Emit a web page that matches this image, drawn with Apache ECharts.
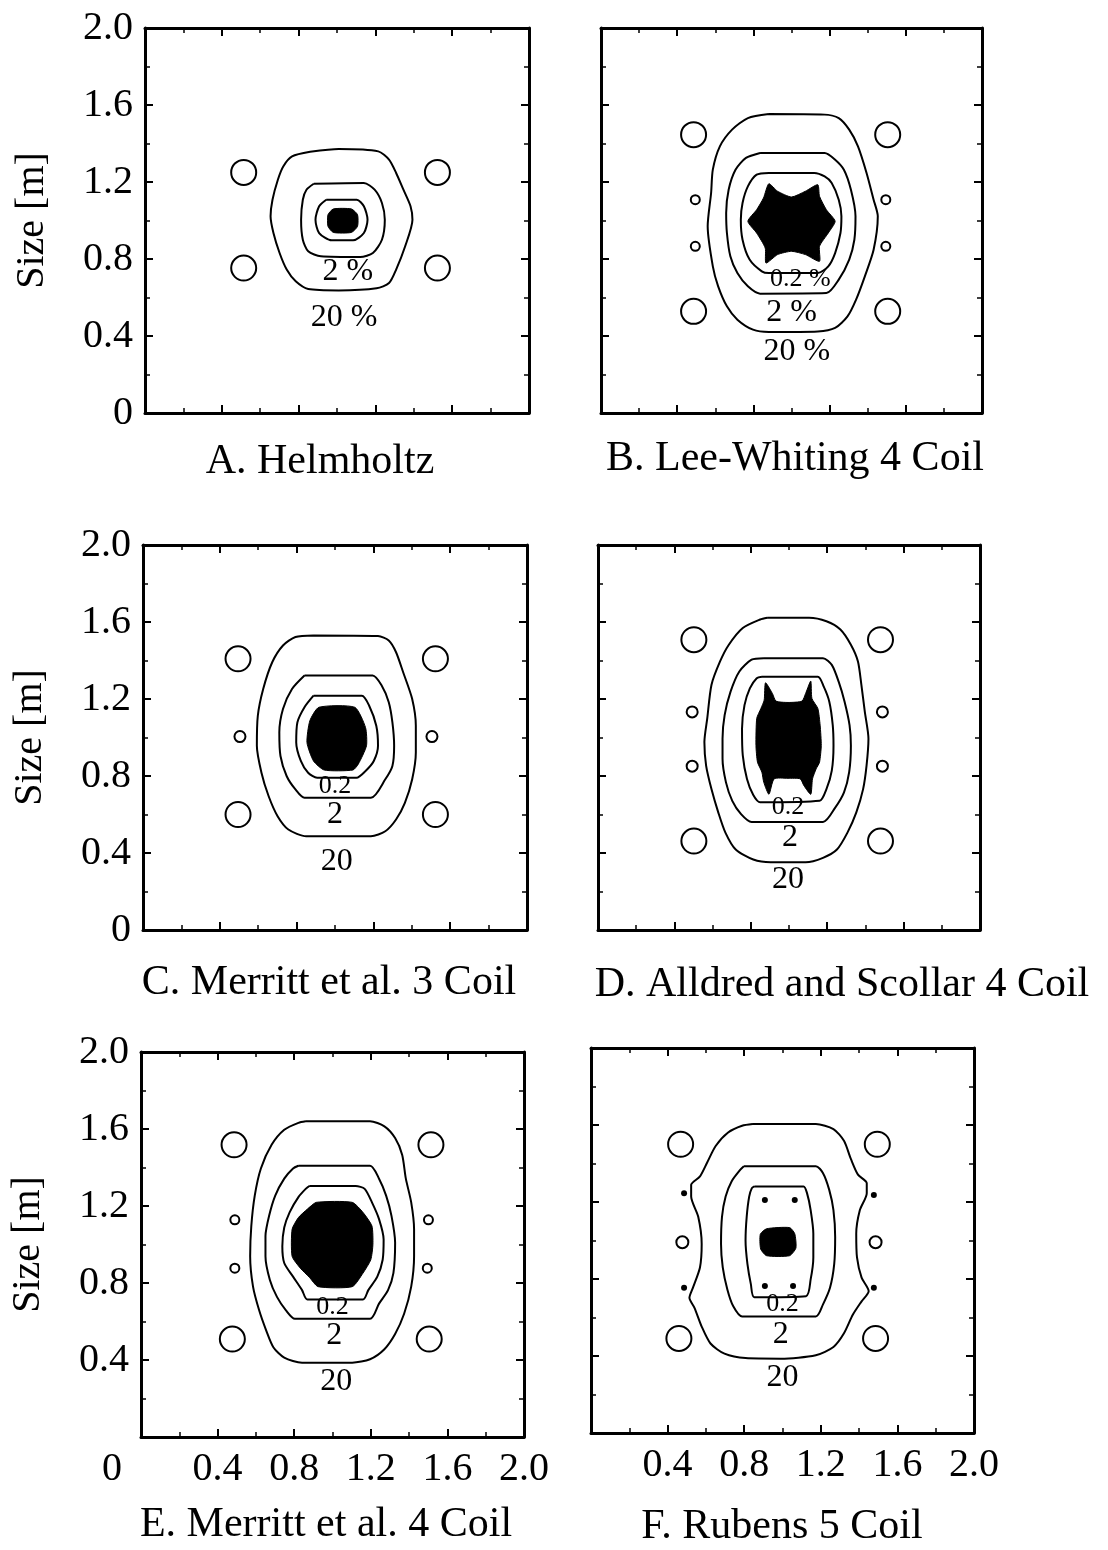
<!DOCTYPE html>
<html lang="en">
<head>
<meta charset="UTF-8">
<title>Coil systems - field uniformity</title>
<style>
    html, body { margin: 0; padding: 0; background: #fff; }
    #main { width: 1108px; height: 1550px; }
</style>
</head>
<body>
<div id="main"></div>
<script src="https://cdn.jsdelivr.net/npm/echarts@6/dist/echarts.min.js"></script>
<script>
// captions under each panel
var panelTitles = ['A. Helmholtz', 'B. Lee-Whiting 4 Coil', 'C. Merritt et al. 3 Coil',
    'D. Alldred and Scollar 4 Coil', 'E. Merritt et al. 4 Coil', 'F. Rubens 5 Coil'];
var tickLabels = ['0', '0.4', '0.8', '1.2', '1.6', '2.0'];
var yName = 'Size [m]';

// A. Helmholtz
var coilsA = [[0.514, 1.25], [1.523, 1.25], [0.514, 0.753], [1.523, 0.753]];
var a20 = [[0.860, 1.357], [1.009, 1.371], [1.215, 1.359], [1.271, 1.316], [1.308, 1.247], [1.346, 1.160], [1.383, 1.074], [1.393, 1.004], [1.355, 0.866], [1.308, 0.745], [1.271, 0.675], [1.206, 0.648], [1.009, 0.637], [0.850, 0.644], [0.785, 0.684], [0.738, 0.745], [0.701, 0.831], [0.669, 0.935], [0.654, 1.022], [0.664, 1.108], [0.692, 1.212], [0.720, 1.281], [0.766, 1.333]];
var a2 = [[0.879, 1.191], [1.140, 1.195], [1.196, 1.160], [1.234, 1.091], [1.249, 1.004], [1.234, 0.900], [1.187, 0.831], [1.121, 0.810], [0.916, 0.814], [0.850, 0.840], [0.822, 0.900], [0.813, 1.004], [0.822, 1.108], [0.841, 1.160]];
var a02 = [[0.944, 1.108], [1.103, 1.108], [1.140, 1.074], [1.159, 1.004], [1.140, 0.935], [1.084, 0.897], [0.972, 0.897], [0.907, 0.935], [0.888, 1.004], [0.907, 1.074]];
var aCore = [[0.981, 1.060], [1.075, 1.060], [1.107, 1.030], [1.107, 0.970], [1.075, 0.938], [0.981, 0.938], [0.953, 0.970], [0.953, 1.030]];
var labelsA = [['2 %', 1.056, 0.736], ['20 %', 1.037, 0.494]];

// B. Lee-Whiting
var coilsB = [[0.486, 1.446], [1.505, 1.446], [0.486, 0.528], [1.505, 0.528]];
var smallB = [[0.495, 1.108], [1.495, 1.108], [0.495, 0.866], [1.495, 0.866]];
var b20 = [[0.881, 1.553], [1.174, 1.550], [1.248, 1.532], [1.303, 1.472], [1.349, 1.385], [1.394, 1.247], [1.431, 1.108], [1.453, 1.022], [1.431, 0.848], [1.385, 0.710], [1.339, 0.589], [1.294, 0.502], [1.229, 0.442], [1.138, 0.424], [0.881, 0.421], [0.798, 0.433], [0.716, 0.485], [0.661, 0.554], [0.615, 0.658], [0.587, 0.762], [0.560, 0.970], [0.578, 1.143], [0.587, 1.264], [0.624, 1.385], [0.688, 1.472], [0.771, 1.532]];
var b2 = [[0.835, 1.351], [1.174, 1.351], [1.229, 1.316], [1.275, 1.264], [1.312, 1.160], [1.336, 1.022], [1.330, 0.900], [1.303, 0.797], [1.248, 0.693], [1.183, 0.623], [0.835, 0.620], [0.771, 0.658], [0.716, 0.727], [0.679, 0.814], [0.661, 0.935], [0.657, 1.039], [0.670, 1.160], [0.706, 1.264], [0.761, 1.325]];
var b02 = [[0.881, 1.247], [1.119, 1.247], [1.174, 1.229], [1.211, 1.195], [1.248, 1.108], [1.262, 1.022], [1.257, 0.935], [1.229, 0.831], [1.193, 0.762], [1.138, 0.727], [0.881, 0.727], [0.844, 0.736], [0.780, 0.797], [0.743, 0.900], [0.734, 1.004], [0.743, 1.091], [0.771, 1.177], [0.817, 1.238]];
var bCore = [[0.881, 1.191], [0.927, 1.152], [1.000, 1.122], [1.073, 1.152], [1.138, 1.186], [1.147, 1.126], [1.183, 1.056], [1.229, 0.996], [1.193, 0.935], [1.147, 0.866], [1.147, 0.788], [1.073, 0.823], [1.000, 0.840], [0.927, 0.823], [0.866, 0.779], [0.862, 0.857], [0.817, 0.935], [0.771, 0.996], [0.817, 1.056], [0.853, 1.117]];
var labelsB = [['0.2 %', 1.046, 0.693], ['2 %', 1.0, 0.52], ['20 %', 1.028, 0.320]];

// C. Merritt 3 coil
var coilsC = [[0.495, 1.409], [1.523, 1.409], [0.495, 0.600], [1.523, 0.600]];
var smallC = [[0.505, 1.005], [1.505, 1.005]];
var c20 = [[0.888, 1.530], [1.224, 1.527], [1.280, 1.504], [1.318, 1.443], [1.355, 1.339], [1.402, 1.200], [1.421, 1.061], [1.421, 0.922], [1.402, 0.783], [1.364, 0.661], [1.318, 0.574], [1.262, 0.513], [1.187, 0.487], [0.850, 0.487], [0.757, 0.522], [0.701, 0.591], [0.654, 0.696], [0.617, 0.817], [0.593, 0.957], [0.598, 1.113], [0.626, 1.252], [0.673, 1.391], [0.729, 1.478], [0.794, 1.522]];
var c2 = [[0.841, 1.322], [1.196, 1.322], [1.243, 1.270], [1.280, 1.183], [1.299, 1.078], [1.308, 0.957], [1.299, 0.852], [1.262, 0.783], [1.187, 0.687], [0.841, 0.687], [0.794, 0.730], [0.748, 0.800], [0.716, 0.904], [0.710, 1.026], [0.729, 1.148], [0.776, 1.252]];
var c02 = [[0.888, 1.217], [1.140, 1.217], [1.178, 1.165], [1.215, 1.061], [1.224, 0.957], [1.202, 0.878], [1.159, 0.826], [1.112, 0.791], [0.907, 0.791], [0.860, 0.817], [0.822, 0.878], [0.798, 0.974], [0.804, 1.078], [0.841, 1.157]];
var cCore = [[0.916, 1.157], [1.103, 1.157], [1.159, 1.052], [1.164, 0.957], [1.121, 0.861], [1.093, 0.831], [0.944, 0.831], [0.888, 0.878], [0.854, 0.974], [0.869, 1.087]];
var labelsC = [['0.2', 1.0, 0.748], ['2', 1.0, 0.6], ['20', 1.009, 0.357]];

// D. Alldred and Scollar
var coilsD = [[0.502, 1.508], [1.479, 1.508], [0.502, 0.462], [1.479, 0.462]];
var smallD = [[0.493, 1.133], [1.489, 1.133], [0.493, 0.851], [1.489, 0.851]];
var d20 = [[0.886, 1.622], [1.105, 1.622], [1.196, 1.604], [1.269, 1.561], [1.324, 1.482], [1.361, 1.395], [1.379, 1.273], [1.397, 1.133], [1.416, 0.994], [1.406, 0.854], [1.388, 0.732], [1.352, 0.610], [1.306, 0.506], [1.251, 0.418], [1.178, 0.375], [1.087, 0.352], [0.904, 0.352], [0.813, 0.366], [0.721, 0.418], [0.667, 0.506], [0.630, 0.610], [0.594, 0.732], [0.566, 0.854], [0.557, 0.976], [0.572, 1.099], [0.594, 1.273], [0.639, 1.395], [0.685, 1.482], [0.758, 1.569], [0.849, 1.613]];
var d2 = [[0.868, 1.412], [1.178, 1.412], [1.224, 1.377], [1.260, 1.290], [1.291, 1.186], [1.317, 1.064], [1.324, 0.959], [1.315, 0.820], [1.288, 0.715], [1.242, 0.636], [1.178, 0.561], [0.804, 0.561], [0.749, 0.602], [0.703, 0.671], [0.670, 0.767], [0.652, 0.889], [0.652, 0.994], [0.663, 1.116], [0.694, 1.238], [0.740, 1.343], [0.804, 1.404]];
var d02 = [[0.858, 1.316], [1.151, 1.316], [1.182, 1.264], [1.211, 1.186], [1.229, 1.064], [1.233, 0.959], [1.224, 0.828], [1.196, 0.732], [1.160, 0.671], [0.849, 0.663], [0.813, 0.701], [0.780, 0.785], [0.758, 0.907], [0.754, 1.046], [0.767, 1.168], [0.795, 1.255], [0.831, 1.308]];
var dCore = [[0.877, 1.284], [0.913, 1.229], [0.932, 1.189], [0.995, 1.182], [1.068, 1.189], [1.087, 1.229], [1.114, 1.293], [1.120, 1.203], [1.151, 1.151], [1.163, 1.064], [1.169, 0.959], [1.160, 0.872], [1.142, 0.837], [1.123, 0.785], [1.114, 0.705], [1.078, 0.750], [1.059, 0.785], [0.995, 0.788], [0.922, 0.785], [0.895, 0.705], [0.868, 0.767], [0.858, 0.820], [0.835, 0.872], [0.827, 0.959], [0.831, 1.099], [0.853, 1.151], [0.870, 1.194]];
var labelsD = [['0.2', 0.995, 0.636], ['2', 1.005, 0.480], ['20', 0.995, 0.262]];

// E. Merritt 4 coil
var coilsE = [[0.486, 1.518], [1.514, 1.518], [0.477, 0.509], [1.505, 0.509]];
var smallE = [[0.490, 1.128], [1.501, 1.128], [0.490, 0.877], [1.495, 0.877]];
var e20 = [[0.860, 1.640], [1.196, 1.640], [1.271, 1.614], [1.327, 1.553], [1.364, 1.465], [1.383, 1.342], [1.411, 1.219], [1.426, 1.079], [1.426, 0.939], [1.411, 0.781], [1.374, 0.640], [1.327, 0.535], [1.271, 0.456], [1.196, 0.404], [1.103, 0.386], [0.841, 0.386], [0.748, 0.412], [0.692, 0.465], [0.654, 0.553], [0.617, 0.658], [0.585, 0.781], [0.570, 0.939], [0.576, 1.096], [0.594, 1.254], [0.626, 1.395], [0.682, 1.518], [0.748, 1.596], [0.822, 1.632]];
var e2 = [[0.822, 1.409], [1.196, 1.409], [1.243, 1.342], [1.280, 1.254], [1.308, 1.149], [1.327, 1.009], [1.318, 0.851], [1.290, 0.763], [1.243, 0.693], [1.196, 0.614], [0.804, 0.614], [0.757, 0.658], [0.710, 0.728], [0.673, 0.816], [0.650, 0.939], [0.650, 1.044], [0.669, 1.149], [0.701, 1.254], [0.748, 1.342], [0.794, 1.395]];
var e02 = [[0.879, 1.304], [1.121, 1.304], [1.168, 1.289], [1.206, 1.219], [1.243, 1.132], [1.267, 1.026], [1.262, 0.921], [1.234, 0.833], [1.187, 0.763], [1.159, 0.714], [0.869, 0.714], [0.841, 0.763], [0.794, 0.833], [0.748, 0.904], [0.738, 0.991], [0.748, 1.088], [0.776, 1.167], [0.822, 1.246], [0.860, 1.289]];
var eCore = [[0.916, 1.219], [1.103, 1.219], [1.159, 1.167], [1.206, 1.096], [1.211, 1.000], [1.200, 0.921], [1.159, 0.851], [1.103, 0.781], [0.925, 0.781], [0.879, 0.830], [0.832, 0.877], [0.789, 0.939], [0.789, 1.079], [0.822, 1.140], [0.869, 1.184]];
var labelsE = [['0.2', 1.0, 0.675], ['2', 1.009, 0.526], ['20', 1.019, 0.289]];

// F. Rubens
var coilsF = [[0.468, 1.5], [1.495, 1.5], [0.459, 0.491], [1.486, 0.491]];
var smallF = [[0.477, 0.991], [1.486, 0.991]];
var dotsF = [[0.486, 1.246], [1.477, 1.237], [0.486, 0.754], [1.477, 0.754], [0.908, 1.211], [1.064, 1.211], [0.908, 0.763], [1.055, 0.763]];
var f20 = [[0.844, 1.605], [1.174, 1.605], [1.266, 1.579], [1.321, 1.518], [1.358, 1.421], [1.394, 1.342], [1.440, 1.298], [1.440, 1.246], [1.404, 1.158], [1.385, 1.035], [1.389, 0.912], [1.413, 0.807], [1.450, 0.737], [1.413, 0.684], [1.367, 0.614], [1.321, 0.518], [1.266, 0.447], [1.174, 0.404], [0.991, 0.386], [0.807, 0.389], [0.697, 0.412], [0.624, 0.465], [0.578, 0.553], [0.541, 0.649], [0.514, 0.702], [0.532, 0.754], [0.569, 0.860], [0.578, 0.982], [0.560, 1.123], [0.523, 1.228], [0.523, 1.289], [0.569, 1.333], [0.606, 1.404], [0.651, 1.491], [0.716, 1.561], [0.789, 1.596]];
var f2 = [[0.798, 1.386], [1.174, 1.386], [1.211, 1.351], [1.244, 1.263], [1.266, 1.158], [1.275, 1.018], [1.270, 0.877], [1.248, 0.754], [1.211, 0.667], [1.174, 0.605], [0.789, 0.605], [0.743, 0.658], [0.712, 0.746], [0.688, 0.860], [0.679, 0.982], [0.684, 1.123], [0.703, 1.228], [0.734, 1.307], [0.780, 1.368]];
var f02 = [[0.853, 1.281], [1.110, 1.281], [1.128, 1.246], [1.147, 1.158], [1.161, 1.035], [1.161, 0.912], [1.147, 0.798], [1.123, 0.711], [0.853, 0.705], [0.835, 0.772], [0.817, 0.877], [0.807, 1.000], [0.813, 1.123], [0.826, 1.228], [0.840, 1.272]];
var fCore = [[0.917, 1.061], [1.037, 1.067], [1.064, 1.035], [1.070, 0.961], [1.037, 0.921], [0.917, 0.921], [0.886, 0.956], [0.884, 1.032]];
var labelsF = [['0.2', 1.0, 0.667], ['2', 0.991, 0.509], ['20', 1.0, 0.289]];

var panels = [
    { coils: coilsA, small: [], dots: [], contours: [a20, a2, a02], core: aCore, labels: labelsA },
    { coils: coilsB, small: smallB, dots: [], contours: [b20, b2, b02], core: bCore, labels: labelsB },
    { coils: coilsC, small: smallC, dots: [], contours: [c20, c2, c02], core: cCore, labels: labelsC },
    { coils: coilsD, small: smallD, dots: [], contours: [d20, d2, d02], core: dCore, labels: labelsD },
    { coils: coilsE, small: smallE, dots: [], contours: [e20, e2, e02], core: eCore, labels: labelsE },
    { coils: coilsF, small: smallF, dots: dotsF, contours: [f20, f2, f02], core: fCore, labels: labelsF }
];

// ---- layout ----
var serif = 'Liberation Serif';
var grids = [
    { left: 145, top: 28, width: 384, height: 385 },
    { left: 601, top: 28, width: 381, height: 385 },
    { left: 143, top: 545, width: 384, height: 385 },
    { left: 598, top: 545, width: 382, height: 385 },
    { left: 141, top: 1052, width: 383, height: 385 },
    { left: 591, top: 1048, width: 383, height: 385 }
];
var titlePos = [[320, 462], [795, 459], [329, 983], [842, 985], [326, 1525], [782, 1527]];
var smallSize = [0, 9, 11, 11, 9, 12];
var showY = [true, false, true, false, true, false];   // y tick labels
var showX = [false, false, false, false, true, true];  // x tick labels

function tickText(v) {
    return tickLabels[Math.round(v / 0.4)];
}

function makeAxis(gi, pos, showLabel, fmt) {
    return {
        type: 'value', gridIndex: gi, position: pos,
        min: 0, max: 2, interval: 0.4,
        axisLine: { show: true, onZero: false, lineStyle: { color: '#000', width: 3 } },
        axisTick: { show: true, inside: true, length: 8, lineStyle: { color: '#000', width: 2 } },
        minorTick: { show: true, splitNumber: 2, length: 5, lineStyle: { color: '#000', width: 1.5 } },
        splitLine: { show: false },
        axisLabel: {
            show: showLabel, color: '#000', fontFamily: serif, fontSize: 40, margin: 12,
            formatter: fmt || tickText,
            rich: { o: { fontFamily: serif, fontSize: 40, color: '#000', padding: [0, 58, 0, 0] } }
        }
    };
}

var xAxes = [], yAxes = [], series = [], titles = [];

panels.forEach(function (p, i) {
    var xFmt = tickText;
    if (i === 4) xFmt = function (v) { return v === 0 ? '{o|0}' : tickText(v); };
    if (i === 5) xFmt = function (v) { return v === 0 ? '' : tickText(v); };
    var yFmt = tickText;
    if (i === 4) yFmt = function (v) { return v === 0 ? '' : tickText(v); };

    xAxes.push(makeAxis(i, 'bottom', showX[i], xFmt));
    xAxes.push(makeAxis(i, 'top', false));
    var yl = makeAxis(i, 'left', showY[i], yFmt);
    if (showY[i]) {
        yl.name = yName;
        yl.nameLocation = 'middle';
        yl.nameRotate = 90;
        yl.nameGap = 93;
        yl.nameTextStyle = { fontFamily: serif, fontSize: 40, color: '#000' };
    }
    yAxes.push(yl);
    yAxes.push(makeAxis(i, 'right', false));

    var xi = 2 * i, yi = 2 * i;

    // contour lines (closed)
    p.contours.forEach(function (c) {
        series.push({
            type: 'line', xAxisIndex: xi, yAxisIndex: yi,
            data: c.concat([c[0]]),
            showSymbol: false, symbol: 'none', smooth: 0.25, silent: true,
            lineStyle: { color: '#000', width: 2 }, z: 3
        });
    });

    // black region of best uniformity
    var core = p.core;
    series.push({
        type: 'custom', xAxisIndex: xi, yAxisIndex: yi, data: core, silent: true, z: 4,
        renderItem: function (params, api) {
            if (params.dataIndex !== 0) return null;
            var pts = core.map(function (q) { return api.coord(q); });
            return { type: 'polygon', shape: { points: pts, smooth: 0.2 }, style: { fill: '#000', stroke: '#000', lineWidth: 1 } };
        }
    });

    // coils
    series.push({
        type: 'scatter', xAxisIndex: xi, yAxisIndex: yi, data: p.coils,
        symbol: 'circle', symbolSize: 25, silent: true, z: 5,
        itemStyle: { color: '#fff', borderColor: '#000', borderWidth: 2, opacity: 1 }
    });
    if (p.small.length) {
        series.push({
            type: 'scatter', xAxisIndex: xi, yAxisIndex: yi, data: p.small,
            symbol: 'circle', symbolSize: smallSize[i], silent: true, z: 5,
            itemStyle: { color: '#fff', borderColor: '#000', borderWidth: 2, opacity: 1 }
        });
    }
    if (p.dots.length) {
        series.push({
            type: 'scatter', xAxisIndex: xi, yAxisIndex: yi, data: p.dots,
            symbol: 'circle', symbolSize: 6, silent: true, z: 5,
            itemStyle: { color: '#000', opacity: 1 }
        });
    }

    // contour level labels
    series.push({
        type: 'scatter', xAxisIndex: xi, yAxisIndex: yi, silent: true, z: 6,
        data: p.labels.map(function (l) {
            return { name: l[0], value: [l[1], l[2]], label: { fontSize: l[0].indexOf('0.2') === 0 ? 26 : 32 } };
        }),
        symbol: 'circle', symbolSize: 1,
        itemStyle: { color: 'rgba(0,0,0,0)', opacity: 1 },
        label: {
            show: true, position: 'inside', color: '#000', opacity: 1, fontFamily: serif,
            formatter: function (d) { return d.name; }
        }
    });

    titles.push({
        text: panelTitles[i], left: titlePos[i][0], top: titlePos[i][1],
        textAlign: 'center', textVerticalAlign: 'middle', padding: 0,
        textStyle: { fontFamily: serif, fontSize: 42, fontWeight: 'normal', color: '#000' }
    });
});

var chart = echarts.init(document.getElementById('main'));
chart.setOption({
    animation: false,
    backgroundColor: '#fff',
    title: titles,
    grid: grids,
    xAxis: xAxes,
    yAxis: yAxes,
    series: series
});
</script>
</body>
</html>
